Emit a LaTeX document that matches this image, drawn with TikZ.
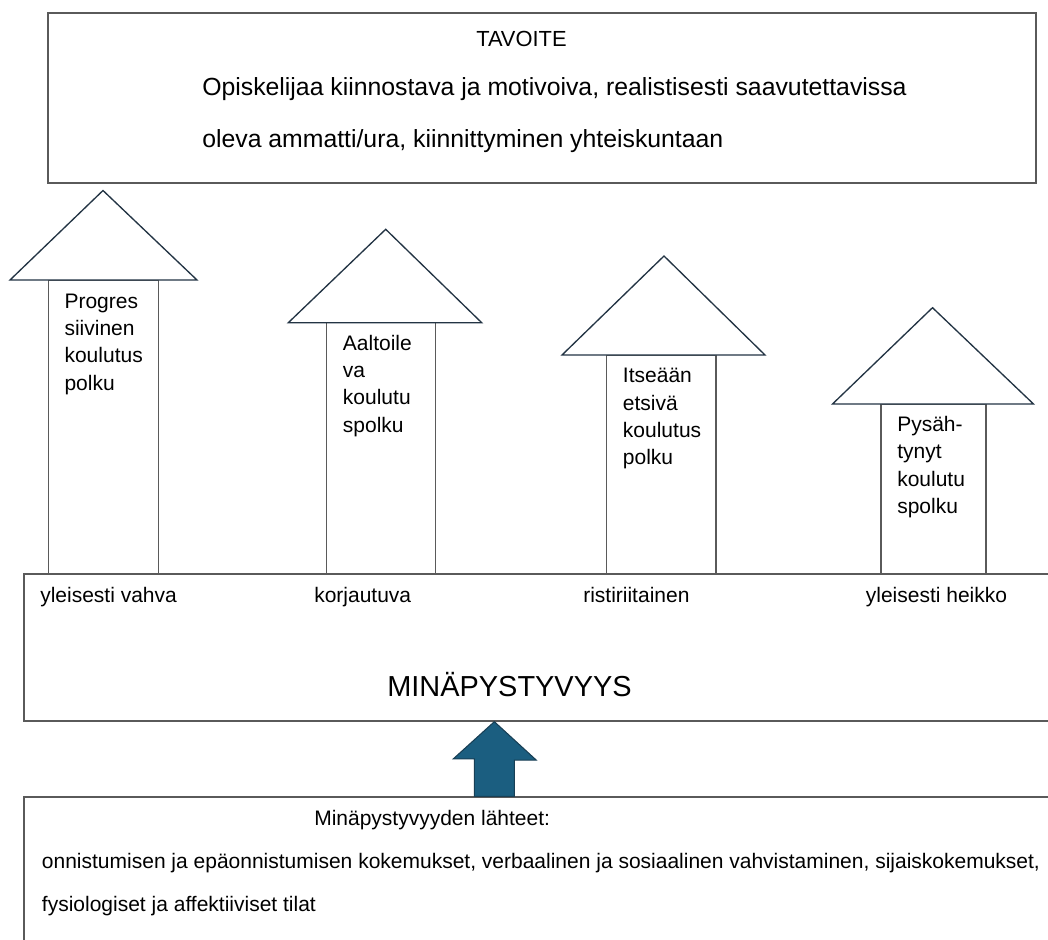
\documentclass[tikz,border=0pt]{standalone}
\usepackage{fontspec}
\setmainfont{Liberation Sans}
\usetikzlibrary{positioning,fit,calc}
\definecolor{srcblue}{HTML}{1B5E80}
\definecolor{srcedge}{HTML}{183F55}
\definecolor{headedge}{HTML}{233444}
\definecolor{boxedge}{HTML}{5A5A5A}

\begin{document}
\begin{tikzpicture}[x=0.75pt,y=-0.75pt,
framebox/.style={rectangle, draw=boxedge, line width=1pt, inner sep=0pt},
txt/.style={inner sep=0pt, anchor=base west, font=\fontsize{15.75}{20.5}\selectfont},
goaltxt/.style={txt, font=\fontsize{18.6}{22}\selectfont},
pathtxt/.style={txt, align=left},
upshaft/.style={draw=boxedge, line width=1pt, fill=white},
uphead/.style={draw=headedge, line width=1pt, fill=white},
srcarrow/.style={fill=srcblue, draw=srcedge, line width=0.8pt},
]
\useasboundingbox (0,0) rectangle (1048,939);
\clip (0,0) rectangle (1048,939);

%Boxes
\node[framebox, fit={(48,13) (1036,183)}]  (goal) {};
\node[framebox, fit={(24,574) (1060,721)}] (self) {};
\node[framebox, fit={(24,797) (1060,960)}] (src)  {};

%Arrows
\foreach \sl/\sr/\hl/\hr/\tx/\ty/\by in {48.5/158.3/10/197/103/190.5/280, 326.7/435.3/288.3/481.7/385.7/229.3/322.7, 606.5/716/562/765/664/256/355, 881/986/832.5/1033.5/932.5/307.7/404}{
  \draw[upshaft] (\sl,\by) rectangle (\sr,574);
  \draw[uphead] (\hl,\by) -- (\tx,\ty) -- (\hr,\by) -- cycle;
}

%Nodes (multi-line nodes sit on their last line)
\node[txt, font=\fontsize{16.4}{20}\selectfont] (goaltitle) at (476,46.5) {TAVOITE};
\node[goaltxt] (goalline1) at (202,95.5) {Opiskelijaa kiinnostava ja motivoiva, realistisesti saavutettavissa};
\node[goaltxt] (goalline2) at (202,147)  {oleva ammatti/ura, kiinnittyminen yhteiskuntaan};

\node[pathtxt] (pathA) at (64.3,390)    {Progres\\siivinen\\koulutus\\polku};
\node[pathtxt] (pathB) at (342.7,432)   {Aaltoile\\va\\koulutu\\spolku};
\node[pathtxt] (pathC) at (622.7,464.7) {Itseään\\etsivä\\koulutus\\polku};
\node[pathtxt] (pathD) at (897,513.5)   {Pysäh-\\tynyt\\koulutu\\spolku};

\node[txt] (strong)  at (40,602.3)    {yleisesti vahva};
\node[txt] (recover) at (314,602.3)   {korjautuva};
\node[txt] (mixed)   at (583,602.3)   {ristiriitainen};
\node[txt] (weak)    at (865.6,602.3) {yleisesti heikko};
\node[txt, font=\fontsize{21.7}{26}\selectfont] (selftitle) at (387,696.7) {MINÄPYSTYVYYS};

\node[txt] (srctitle) at (314,825)    {Minäpystyvyyden lähteet:};
\node[txt] (srcline1) at (41.7,868.3) {onnistumisen ja epäonnistumisen kokemukset, verbaalinen ja sosiaalinen vahvistaminen, sijaiskokemukset,};
\node[txt] (srcline2) at (41.7,911)   {fysiologiset ja affektiiviset tilat};

%Lines
\path (self.south west) ++(471,0) coordinate (tip);
\path (src.north west) ++(451,0) coordinate (foot);
\draw[srcarrow] (tip) -- ++(42,38.5) -- ++(-22,0) |- (foot) -- ++(0,-37.5) -- ++(-21,0) -- cycle;
\end{tikzpicture}
\end{document}
